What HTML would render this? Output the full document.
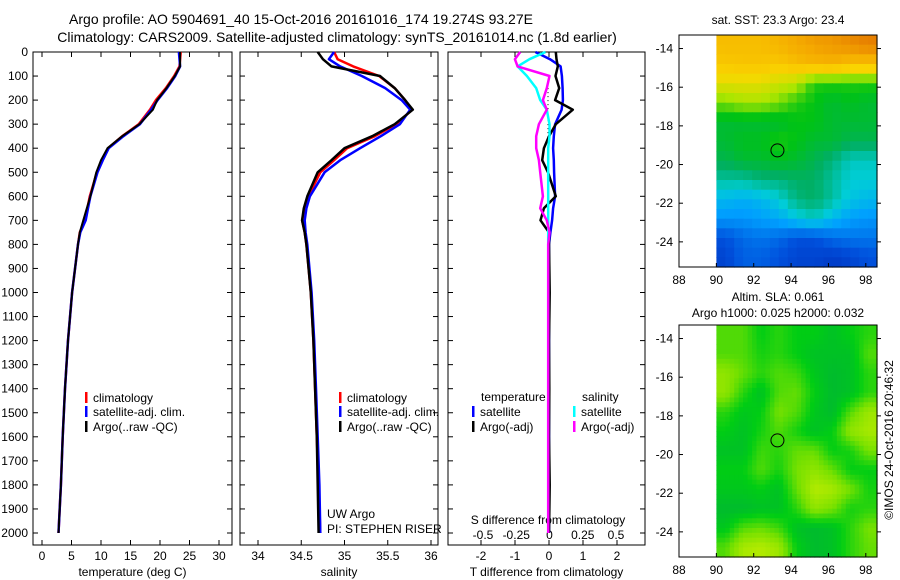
<!DOCTYPE html>
<html><head><meta charset="utf-8"><style>
body{margin:0;background:#fff;}
svg{display:block;font-family:"Liberation Sans",sans-serif;font-size:12px;}
</style></head><body>
<svg id="c" width="900" height="580" xmlns="http://www.w3.org/2000/svg"></svg>
<script>
// ---- data ----
const depths = [0,30,60,100,150,200,240,300,350,400,450,500,600,650,700,750,800,1000,1200,1400,1600,1800,2000];
const tempClim = [23.5,23.4,23.3,22.4,21.0,19.3,18.3,16.4,13.6,11.2,10.2,9.3,8.1,7.7,7.3,6.4,6.1,5.1,4.4,3.9,3.5,3.2,2.8];
const tempSat  = [23.2,23.3,23.4,22.6,21.2,19.6,18.5,16.6,13.8,11.3,10.3,9.4,8.2,7.8,7.4,6.5,6.1,5.1,4.4,3.9,3.5,3.2,2.8];
const tempArgo = [23.4,23.4,23.4,22.5,21.1,19.5,18.8,16.5,13.6,11.1,10.0,9.2,8.2,7.6,7.0,6.4,6.1,5.1,4.4,3.9,3.5,3.2,2.8];
const salClim = [34.88,34.92,35.10,35.40,35.58,35.70,35.78,35.60,35.35,35.03,34.88,34.72,34.58,34.54,34.51,34.54,34.56,34.61,34.64,34.66,34.68,34.70,34.72];
const salSat  = [34.88,34.82,34.95,35.20,35.47,35.66,35.76,35.64,35.42,35.18,34.95,34.77,34.60,34.56,34.54,34.55,34.57,34.62,34.65,34.67,34.69,34.71,34.72];
const salArgo = [34.69,34.75,34.85,35.41,35.58,35.70,35.79,35.58,35.32,35.00,34.85,34.69,34.57,34.53,34.51,34.54,34.56,34.61,34.64,34.66,34.68,34.69,34.70];
const dTsat  = [-0.40,0.03,0.34,0.38,0.40,0.41,0.37,0.18,0.14,0.12,0.14,0.15,0.18,0.12,0.09,0.04,0.00,0.00,0.00,0.00,0.00,0.00,0.00];
const dTargo = [0.20,0.22,0.26,0.19,0.30,0.18,0.70,0.20,0.00,-0.15,-0.20,-0.03,0.20,-0.15,-0.25,0.00,0.00,0.02,0.00,0.01,0.00,0.02,0.00];
const dSsat  = [-0.03,-0.15,-0.24,-0.17,-0.10,-0.07,-0.02,0.00,0.00,-0.01,-0.01,-0.01,-0.01,-0.01,-0.01,-0.01,-0.01,-0.01,-0.01,-0.01,-0.01,-0.01,-0.01];
const dSargo = [-0.22,-0.26,-0.24,0.00,-0.02,-0.05,-0.02,-0.08,-0.10,-0.10,-0.08,-0.07,-0.05,-0.07,-0.02,0.00,-0.01,-0.01,-0.01,-0.01,-0.01,-0.01,-0.01];
const depthTicks = [0,100,200,300,400,500,600,700,800,900,1000,1100,1200,1300,1400,1500,1600,1700,1800,1900,2000];
const tempTicks = [0,5,10,15,20,25,30];
const salTicks = [34,34.5,35,35.5,36];
const dTTicks = [-2,-1,0,1,2];
const dSTicks = [-0.5,-0.25,0,0.25,0.5];
const lonTicks = [88,90,92,94,96,98];
const latTicks = [-14,-16,-18,-20,-22,-24];
const sstGrid = [
[0.85,0.85,0.85,0.87,0.90,0.92,0.93,0.95,0.97],
[0.82,0.83,0.83,0.82,0.85,0.87,0.88,0.85,0.85],
[0.75,0.75,0.75,0.72,0.70,0.60,0.60,0.60,0.60],
[0.65,0.68,0.68,0.65,0.60,0.58,0.55,0.57,0.55],
[0.55,0.55,0.55,0.55,0.58,0.58,0.55,0.55,0.55],
[0.55,0.57,0.57,0.60,0.58,0.55,0.55,0.52,0.52],
[0.52,0.55,0.55,0.57,0.55,0.52,0.48,0.42,0.42],
[0.45,0.45,0.48,0.48,0.50,0.50,0.45,0.40,0.40],
[0.35,0.33,0.35,0.40,0.48,0.50,0.45,0.38,0.35],
[0.28,0.28,0.30,0.32,0.38,0.42,0.35,0.30,0.28],
[0.15,0.20,0.22,0.20,0.15,0.15,0.20,0.22,0.22],
[0.12,0.18,0.18,0.15,0.12,0.12,0.10,0.12,0.15]];
const slaGrid = [
[0.50,0.50,0.30,0.40,0.30,0.30,0.20,0.30,0.40],
[0.50,0.50,0.35,0.40,0.30,0.20,0.20,0.20,0.50],
[0.70,0.55,0.40,0.50,0.45,0.25,0.15,0.20,0.40],
[0.70,0.40,0.20,0.50,0.55,0.30,0.15,0.20,0.40],
[0.40,0.25,0.30,0.60,0.50,0.25,0.15,0.50,0.75],
[0.30,0.20,0.35,0.50,0.35,0.20,0.30,0.70,0.80],
[0.20,0.20,0.45,0.40,0.55,0.55,0.30,0.35,0.60],
[0.30,0.30,0.50,0.35,0.60,0.70,0.55,0.30,0.30],
[0.25,0.25,0.30,0.20,0.55,0.85,0.80,0.60,0.35],
[0.15,0.15,0.20,0.20,0.40,0.70,0.60,0.35,0.40],
[0.25,0.50,0.55,0.45,0.20,0.15,0.20,0.40,0.60],
[0.50,0.80,0.85,0.75,0.30,0.15,0.20,0.40,0.55]];
const argoLon = 93.27, argoLat = -19.27;

const NS="http://www.w3.org/2000/svg", svg=document.getElementById('c');
function mk(tag,at,parent){const e=document.createElementNS(NS,tag);for(const k in at)e.setAttribute(k,at[k]);(parent||svg).appendChild(e);return e;}
function txt(s,x,y,anchor,name,parent){const t=mk('text',{x:x,y:y,'text-anchor':anchor||'start',fill:'#000'},parent);t.textContent=s;


return t;}

// titles
const t1=txt('Argo profile: AO 5904691_40 15-Oct-2016 20161016_174 19.274S 93.27E',301,24,'middle','title-line-1');
t1.setAttribute('font-size','14');
const t2=txt('Climatology: CARS2009. Satellite-adjusted climatology: synTS_20161014.nc (1.8d earlier)',337,42,'middle','title-line-2');
t2.setAttribute('font-size','14');

// depth axis
const yTop=52, pxPer100=24.05;
const yD = d => yTop + d/100*pxPer100;
const yBot=545;
function panel(name,x0,x1,xs,ticks,tickFmt,xlabel){
  const g=mk('g',{});
  
  
  const r=mk('rect',{x:x0,y:yTop,width:x1-x0,height:yBot-yTop,fill:'none',stroke:'#000','stroke-width':1},g);
  
  
  depthTicks.forEach(d=>{mk('line',{x1:x0,x2:x0+5,y1:yD(d),y2:yD(d),stroke:'#000'},g);mk('line',{x1:x1,x2:x1-5,y1:yD(d),y2:yD(d),stroke:'#000'},g);});
  if(ticks){ticks.forEach(v=>{const x=xs(v);mk('line',{x1:x,x2:x,y1:yBot,y2:yBot-5,stroke:'#000'},g);mk('line',{x1:x,x2:x,y1:yTop,y2:yTop+5,stroke:'#000'},g);txt(tickFmt(v),x,560,'middle',name+'-tick-label',g);});}
  txt(xlabel,(x0+x1)/2,576,'middle',name+'-x-axis-title',g);
  return g;
}
function line(g,xs,vals,color,w,name){
  const pts=vals.map((v,i)=>xs(v).toFixed(1)+','+yD(depths[i]).toFixed(1)).join(' ');
  const p=mk('polyline',{points:pts,fill:'none',stroke:color,'stroke-width':w,'stroke-linejoin':'round'},g);
  
  
}
function legend(g,x,y,color,label,name){
  mk('rect',{x:x,y:y-10,width:2.5,height:11,fill:color},g);
  txt(label,x+8,y,'start',name,g);
}

depthTicks.forEach(d=>txt(String(d),28,yD(d)+4,'end','depth-tick-label'));

// panel 1 temperature
const xT=v=>42+v*5.9;
const p1=panel('temperature-panel',33,232,xT,tempTicks,v=>String(v),'temperature (deg C)');
line(p1,xT,tempClim,'#f00',2.5,'temp-climatology-line');
line(p1,xT,tempSat,'#00f',2.5,'temp-satellite-line');
line(p1,xT,tempArgo,'#000',2,'temp-argo-line');
legend(p1,85,402,'#f00','climatology','legend-climatology');
legend(p1,85,416,'#00f','satellite-adj. clim.','legend-satellite');
legend(p1,85,431,'#000','Argo(..raw -QC)','legend-argo');

// panel 2 salinity
const xS=v=>258+(v-34)*86.5;
const p2=panel('salinity-panel',240,438,xS,salTicks,v=>String(v),'salinity');
line(p2,xS,salClim,'#f00',2.5,'sal-climatology-line');
line(p2,xS,salSat,'#00f',2.5,'sal-satellite-line');
line(p2,xS,salArgo,'#000',2.5,'sal-argo-line');
legend(p2,339,402,'#f00','climatology','legend-climatology');
legend(p2,339,416,'#00f','satellite-adj. clim.','legend-satellite');
legend(p2,339,431,'#000','Argo(..raw -QC)','legend-argo');
txt('UW Argo',327,518,'start','float-operator',p2);
txt('PI: STEPHEN RISER',327,533,'start','float-pi',p2);

// panel 3 differences
const xdT=v=>549+v*34, xdS=v=>549.5+v*133;
const p3=panel('difference-panel',448,645,xdT,dTTicks,v=>String(v),'T difference from climatology');
dSTicks.forEach(v=>txt(String(v),xdS(v),539,'middle','s-diff-tick-label',p3));
txt('S difference from climatology',548,524,'middle','s-diff-axis-title',p3);
mk('line',{x1:548,x2:548,y1:yD(150),y2:yD(450),stroke:'#000','stroke-dasharray':'1,3'},p3);
line(p3,xdT,dTsat,'#00f',2.5,'t-diff-satellite-line');
line(p3,xdT,dTargo,'#000',2.5,'t-diff-argo-line');
line(p3,xdS,dSsat,'#0ff',2.5,'s-diff-satellite-line');
line(p3,xdS,dSargo,'#f0f',2.5,'s-diff-argo-line');
txt('temperature',481,401,'start','legend-temperature-header',p3);
legend(p3,472,416,'#00f','satellite','legend-t-satellite');
legend(p3,472,431,'#000','Argo(-adj)','legend-t-argo');
txt('salinity',582,401,'start','legend-salinity-header',p3);
legend(p3,573,416,'#0ff','satellite','legend-s-satellite');
legend(p3,573,431,'#f0f','Argo(-adj)','legend-s-argo');

// maps
function lerp(a,b,t){return a.map((v,i)=>Math.round(v+(b[i]-v)*t));}
function cmap(stops,v){for(let i=0;i<stops.length-1;i++){if(v<=stops[i+1][0]){const t=(v-stops[i][0])/(stops[i+1][0]-stops[i][0]);const c=lerp(stops[i][1],stops[i+1][1],Math.max(0,t));return 'rgb('+c.join(',')+')';}}return 'rgb('+stops[stops.length-1][1].join(',')+')';}
const sstStops=[[0,[0,20,160]],[0.15,[0,80,220]],[0.3,[0,160,255]],[0.4,[0,205,215]],[0.5,[0,175,100]],[0.58,[0,195,20]],[0.68,[170,230,0]],[0.78,[250,215,0]],[0.9,[245,170,0]],[1,[225,110,0]]];
const slaStops=[[0,[0,170,70]],[0.3,[0,205,20]],[0.6,[120,225,0]],[1,[215,240,0]]];
function sample(grid,r,c){ // bilinear sample in cell-center coordinates
  const nr=grid.length,nc=grid[0].length;
  r=Math.max(0,Math.min(nr-1,r));c=Math.max(0,Math.min(nc-1,c));
  const r0=Math.floor(r),c0=Math.floor(c),r1=Math.min(nr-1,r0+1),c1=Math.min(nc-1,c0+1),fr=r-r0,fc=c-c0;
  return grid[r0][c0]*(1-fr)*(1-fc)+grid[r0][c1]*(1-fr)*fc+grid[r1][c0]*fr*(1-fc)+grid[r1][c1]*fr*fc;
}
function map(name,top,bot,grid,stops,sub,title1,title2){
  const g=mk('g',{});
  
  
  const L=679,R=877,lonL=88,lonR=98.6;
  const xl=v=>L+(v-lonL)/(lonR-lonL)*(R-L);
  const latTop=-13.3,latBot=-25.3;
  const yl=v=>top+(v-latTop)/(latBot-latTop)*(bot-top);
  const nr=grid.length,nc=grid[0].length;
  const x0=xl(90),cw=(R-x0)/(nc*sub),rh=(bot-top)/(nr*sub);
  for(let i=0;i<nr*sub;i++)for(let j=0;j<nc*sub;j++){
    const v=sub===1?grid[i][j]:sample(grid,(i+0.5)/sub-0.5,(j+0.5)/sub-0.5);
    const c=mk('rect',{x:(x0+j*cw).toFixed(1),y:(top+i*rh).toFixed(1),width:(cw+0.6).toFixed(1),height:(rh+0.6).toFixed(1),fill:cmap(stops,v)},g);
    
    
  }
  mk('rect',{x:L,y:top,width:R-L,height:bot-top,fill:'none',stroke:'#000'},g);
  latTicks.forEach(v=>{const y=yl(v);mk('line',{x1:L,x2:L+4,y1:y,y2:y,stroke:'#000'},g);mk('line',{x1:R,x2:R+4,y1:y,y2:y,stroke:'#000'},g);txt(String(v),673,y+4,'end',name+'-lat-label',g);});
  lonTicks.forEach(v=>{const x=xl(v);mk('line',{x1:x,x2:x,y1:bot,y2:bot-4,stroke:'#000'},g);txt(String(v),x,bot+17,'middle',name+'-lon-label',g);});
  const c=mk('circle',{cx:xl(argoLon),cy:yl(argoLat),r:6.5,fill:'none',stroke:'#000'},g);
  
  
  if(title2){txt(title1,778,top-24,'middle',name+'-title',g);txt(title2,778,top-8,'middle',name+'-subtitle',g);}
  else txt(title1,778,top-11,'middle',name+'-title',g);
}
map('sst-map',35,267,sstGrid,sstStops,2,'sat. SST: 23.3 Argo: 23.4');
map('sla-map',325,557,slaGrid,slaStops,4,'Altim. SLA: 0.061','Argo h1000: 0.025 h2000: 0.032');

const ts=txt('©IMOS 24-Oct-2016 20:46:32',0,0,'middle','timestamp');
ts.setAttribute('transform','translate(893,440) rotate(-90)');
</script>
</body></html>
